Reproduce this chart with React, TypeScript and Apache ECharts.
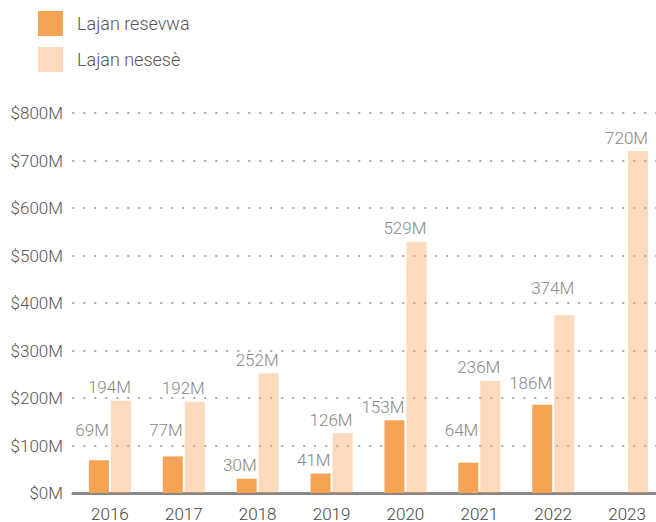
import React, { useEffect, useRef } from "react";
import * as echarts from "echarts";

const years = ["2016", "2017", "2018", "2019", "2020", "2021", "2022", "2023"];
const reserveLoans = [69, 77, 30, 41, 153, 64, 186, 0];
const neededLoans = [194, 192, 252, 126, 529, 236, 374, 720];
const seriesNames = ["Lajan resevwa", "Lajan nesesè"];
const yTicks = [0, 100, 200, 300, 400, 500, 600, 700, 800];

const FONT = "Roboto, 'Noto Sans', sans-serif";

export default function App() {
  const ref = useRef<HTMLDivElement>(null);
  useEffect(() => {
    if (!ref.current) return;
    const chart = echarts.init(ref.current, null, { renderer: "svg" });
    const label = {
      show: true,
      position: "top",
      align: "right",
      offset: [10, 0],
      distance: 5,
      color: "#888",
      fontSize: 17,
      fontWeight: 300,
      fontFamily: FONT,
      formatter: (p: any) => (p.value ? p.value + "M" : ""),
    };
    chart.setOption({
      animation: false,
      textStyle: { fontFamily: FONT },
      legend: {
        orient: "vertical",
        left: 38,
        top: 11,
        padding: 0,
        itemWidth: 25,
        itemHeight: 25,
        itemGap: 11,
        icon: "rect",
        textStyle: {
          color: "#555",
          fontSize: 18,
          fontWeight: 300,
          fontFamily: FONT,
          padding: [0, 0, 0, 9],
        },
        data: seriesNames,
      },
      grid: { left: 73, top: 113, width: 591, height: 380, containLabel: false },
      xAxis: {
        type: "category",
        data: years,
        axisLine: { show: true, lineStyle: { color: "#888", width: 3 } },
        axisTick: { show: false },
        axisLabel: { color: "#444", fontSize: 17, fontWeight: 300, margin: 12, fontFamily: FONT },
      },
      yAxis: {
        type: "value",
        min: 0,
        max: 800,
        interval: 100,
        axisLine: { show: false },
        axisTick: { show: false },
        axisLabel: {
          color: "#555",
          fontSize: 17,
          fontWeight: 300,
          margin: 10,
          fontFamily: FONT,
          formatter: (v: number) => "$" + v + "M",
        },
        splitLine: {
          show: true,
          lineStyle: { color: "#aaa", width: 2, type: [0.5, 10.5], cap: "round" },
        },
      },
      series: [
        {
          name: seriesNames[0],
          type: "bar",
          data: reserveLoans,
          barWidth: 20,
          barGap: "10%",
          itemStyle: { color: "#F7A356" },
          label,
        },
        {
          name: seriesNames[1],
          type: "bar",
          data: neededLoans,
          barWidth: 20,
          itemStyle: { color: "rgba(247,163,86,0.4)" },
          label,
        },
      ],
    });

    // Nudge value labels up when they would sit on a dotted grid line.
    const gridYs = yTicks.slice(1).map((t) => chart.convertToPixel({ yAxisIndex: 0 }, t) as number);
    const withLift = (vals: number[]) =>
      vals.map((v) => {
        const top = chart.convertToPixel({ yAxisIndex: 0 }, v) as number;
        const bottom = top - 6;
        const upper = top - 18;
        let lift = 0;
        for (const g of gridYs) {
          if (g >= upper - 2 && g <= bottom + 2) lift = Math.max(lift, bottom - (g - 8));
        }
        return { value: v, label: { offset: [10, -lift] } };
      });
    chart.setOption({
      series: [{ data: withLift(reserveLoans) }, { data: withLift(neededLoans) }],
    });
    return () => chart.dispose();
  }, []);
  return (
    <div
      style={{
        position: "absolute",
        left: 0,
        top: 0,
        width: 656,
        height: 522,
        overflow: "hidden",
      }}
    >
      <div ref={ref} style={{ width: 680, height: 522 }} />
    </div>
  );
}
